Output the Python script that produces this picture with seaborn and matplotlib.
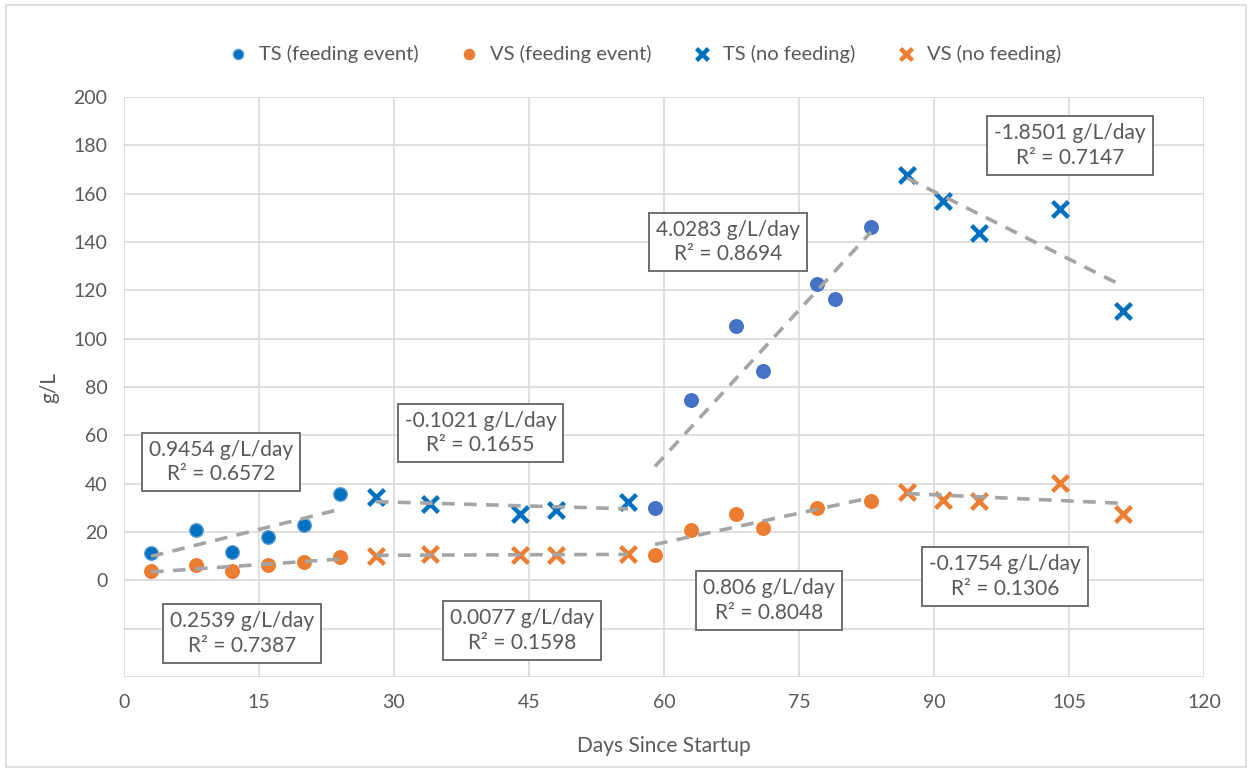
import numpy as np
import pandas as pd
import matplotlib.pyplot as plt
import seaborn as sns
from matplotlib.patches import Rectangle
from matplotlib.ticker import FuncFormatter

# ---- data ----
ts_feed_early_day = [3, 8, 12, 16, 20, 24]
ts_feed_early_val = [11.2, 20.7, 11.8, 17.8, 22.9, 35.7]
ts_feed_late_day = [59, 63, 68, 71, 77, 79, 83]
ts_feed_late_val = [29.9, 74.7, 105.3, 86.7, 122.6, 116.5, 146.2]
vs_feed_day = [3, 8, 12, 16, 20, 24, 59, 63, 68, 71, 77, 83]
vs_feed_val = [3.8, 6.2, 3.8, 6.2, 7.6, 9.9, 10.7, 20.9, 27.3, 21.7, 29.9, 33.0]
ts_nofeed_day = [28, 34, 44, 48, 56, 87, 91, 95, 104, 111]
ts_nofeed_val = [34.7, 31.7, 27.3, 29.3, 32.6, 167.8, 157.0, 143.8, 153.7, 111.3]
vs_nofeed_day = [28, 34, 44, 48, 56, 87, 91, 95, 104, 111]
vs_nofeed_val = [10.2, 10.8, 10.6, 10.6, 10.8, 36.8, 33.2, 32.7, 40.5, 27.6]

# trend segments: (series, first day, last day)
segments = [("TS", 3, 24), ("TS", 28, 56), ("TS", 59, 83), ("TS", 87, 111),
            ("VS", 3, 24), ("VS", 28, 56), ("VS", 59, 83), ("VS", 87, 111)]
seg_labels = ["0.9454 g/L/day\nR² = 0.6572", "-0.1021 g/L/day\nR² = 0.1655",
              "4.0283 g/L/day\nR² = 0.8694", "-1.8501 g/L/day\nR² = 0.7147",
              "0.2539 g/L/day\nR² = 0.7387", "0.0077 g/L/day\nR² = 0.1598",
              "0.806 g/L/day\nR² = 0.8048", "-0.1754 g/L/day\nR² = 0.1306"]
label_x = [10.8, 39.6, 67.1, 105.1, 13.1, 44.2, 71.7, 97.9]
label_y = [49, 61, 140, 180, -22, -20.7, -8.3, 1.7]

BLUE = "#0070C0"
BLUE2 = "#4472C4"
ORANGE = "#ED7D31"
GRAY = "#A5A5A5"
TEXT = "#595959"

sns.set_theme(style="whitegrid")
plt.rcParams["font.family"] = ["Lato", "DejaVu Sans"]

ts_all = pd.DataFrame({"day": ts_feed_early_day + ts_feed_late_day + ts_nofeed_day,
                       "val": ts_feed_early_val + ts_feed_late_val + ts_nofeed_val})
vs_all = pd.DataFrame({"day": vs_feed_day + vs_nofeed_day,
                       "val": vs_feed_val + vs_nofeed_val})

fig = plt.figure(figsize=(12.52, 7.73), dpi=100)
ax = fig.add_axes([0.099, 0.124, 0.8627, 0.7505])

# trendlines
for name, d0, d1 in segments:
    df = ts_all if name == "TS" else vs_all
    sub = df[(df.day >= d0) & (df.day <= d1)]
    sns.regplot(data=sub, x="day", y="val", ax=ax, scatter=False, ci=None,
                line_kws=dict(color=GRAY, lw=2.6, dashes=(3.5, 2.6), zorder=4))

sns.scatterplot(x=ts_feed_early_day, y=ts_feed_early_val, ax=ax, color=BLUE,
                s=95, edgecolor="#5B9BD5", linewidth=1, zorder=3,
                label="TS (feeding event)")
sns.scatterplot(x=vs_feed_day, y=vs_feed_val, ax=ax, color=ORANGE, s=95,
                edgecolor=ORANGE, linewidth=1, zorder=3, label="VS (feeding event)")
sns.scatterplot(x=ts_nofeed_day, y=ts_nofeed_val, ax=ax, color=BLUE, marker="x",
                s=130, linewidth=3.2, zorder=3, label="TS (no feeding)")
sns.scatterplot(x=vs_nofeed_day, y=vs_nofeed_val, ax=ax, color=ORANGE, marker="x",
                s=130, linewidth=3.2, zorder=3, label="VS (no feeding)")
sns.scatterplot(x=ts_feed_late_day, y=ts_feed_late_val, ax=ax, color=BLUE2,
                s=95, edgecolor=BLUE2, linewidth=1, zorder=3, legend=False)

for txt, lx, ly in zip(seg_labels, label_x, label_y):
    ax.text(lx, ly, txt, ha="center", va="center", fontsize=15, color=TEXT,
            linespacing=1.3, zorder=6,
            bbox=dict(boxstyle="square,pad=0.33", fc="white", ec="#6F6F6F", lw=1.4))

ax.set_xlim(0, 120)
ax.set_ylim(-40, 200)
ax.set_xticks(np.arange(0, 121, 15))
ax.set_yticks(np.arange(-40, 201, 20))
ax.yaxis.set_major_formatter(FuncFormatter(lambda v, p: f"{v:.0f}" if v >= 0 else ""))
ax.tick_params(labelsize=14, colors=TEXT, length=0, pad=12)
ax.grid(True, color="#D9D9D9", lw=1.2)
for s in ax.spines.values():
    s.set_visible(False)
ax.set_xlabel("Days Since Startup", fontsize=15, color=TEXT, labelpad=18)
ax.set_ylabel("g/L", fontsize=15, color=TEXT, labelpad=10)

h, l = ax.get_legend_handles_labels()
ax.legend(h, l, ncol=4, loc="center", bbox_to_anchor=(0.477, 1.075), frameon=False,
          fontsize=14.5, labelcolor=TEXT, handletextpad=0.05, columnspacing=1.5,
          markerscale=0.75)

fig.patches.append(Rectangle((0.005, 0.008), 0.99, 0.985, transform=fig.transFigure,
                             fill=False, ec="#D9D9D9", lw=1.2))

fig.savefig("out.png", dpi=100)
